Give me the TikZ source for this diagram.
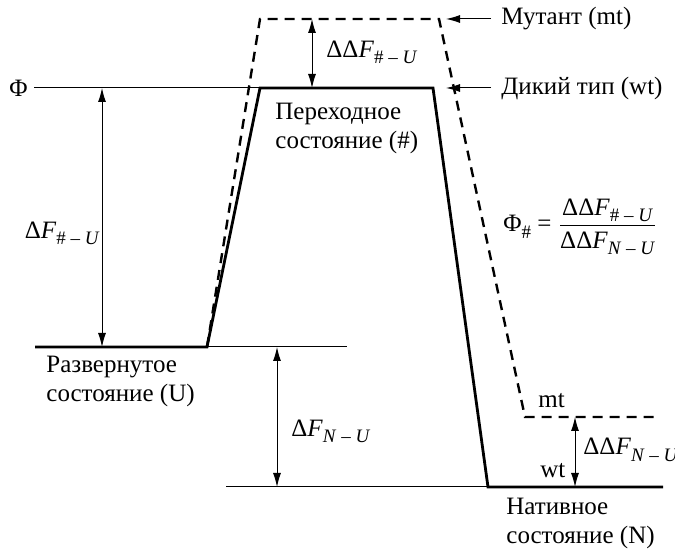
\documentclass[tikz,border=0pt]{standalone}
\usepackage{fontspec}
\setmainfont{Liberation Serif}
\usepackage{tikz}
\usetikzlibrary{positioning,arrows.meta,calc}
\newcommand{\lowsub}[1]{\raisebox{-0.55ex}{\fontsize{9.5}{9.5}\selectfont #1}}
\newcommand{\enF}[2]{#1\textit{F}\lowsub{#2}}

\begin{document}
\begin{tikzpicture}[
   x=0.5pt, y=-0.5pt,
   font=\fontsize{12.5}{14.5}\selectfont,
   node distance=6pt,
   level/.style={line width=1.4pt},
   thinline/.style={line width=0.5pt},
   mutline/.style={line width=1.2pt,dash pattern=on 5pt off 3.5pt},
   gap/.style={thinline,{Latex[length=7pt,width=4pt]}-{Latex[length=7pt,width=4pt]}},
   pointer/.style={thinline,-{Latex[length=7pt,width=4pt]}},
   lbl/.style={inner sep=0pt,align=left},
]
\useasboundingbox (0,0) rectangle (675,550);

% corners of the free-energy profile
\coordinate (u0) at (35,347);
\coordinate (u1) at (207,347);
\coordinate (u2) at (347,347);
\coordinate (t0) at (260,88);
\coordinate (t1) at (433,88);
\coordinate (n0) at (226,487);
\coordinate (n1) at (488,487);
\coordinate (n2) at (663,487);
\coordinate (m0) at (260,19);
\coordinate (m1) at (439,19);
\coordinate (m2) at (525,417);
\coordinate (m3) at (656,417);
\coordinate (phi) at (34,88);

% profiles
\draw[level] (u0) -- (u1) -- (t0) -- (t1) -- (n1) -- (n2);
\draw[mutline] (u1) -- (m0) -- (m1) -- (m2) -- (m3);
\draw[thinline] (u1) -- (u2);
\draw[thinline] (n0) -- (n1);
\draw[thinline] (phi) -- (t0);

% state labels
\node[anchor=east,inner sep=3pt] (philbl) at (phi) {Φ};
\node[lbl,anchor=west] (ts) at (275,128) {Переходное\\состояние (\#)};
\node[lbl,anchor=west] (us) at (46,381) {Развернутое\\состояние (U)};
\node[lbl,anchor=west] (ns) at (506,523) {Нативное\\состояние (N)};
\node[lbl,anchor=west] (mtl) at (538,401) {mt};
\node[lbl,anchor=west] (wtl) at (540,471) {wt};

% mutant / wild type pointers
\node[lbl,anchor=west] (mt) at (501,19) {Мутант (mt)};
\node[lbl,anchor=west] (wt) at (501,88) {Дикий тип (wt)};
\coordinate (mtend) at (446,19);
\coordinate (wtend) at (446,88);
\draw[pointer] ([xshift=-5pt]mt.west) -- (mtend);
\draw[pointer] ([xshift=-5pt]wt.west) -- (wtend);

% energy differences
\coordinate (dd0) at (312,19);
\coordinate (dd1) at (312,88);
\draw[gap] (dd0) -- (dd1);
\coordinate (ddmid) at ($(dd0)!0.48!(dd1)$);
\node[lbl,right=7pt of ddmid] (ddl) {\enF{ΔΔ}{\# – \textit{U}}};

\coordinate (fa0) at (102,88);
\coordinate (fa1) at (102,347);
\draw[gap] (fa0) -- (fa1);
\coordinate (famid) at ($(fa0)!0.56!(fa1)$);
\node[lbl,left=1pt of famid] (fal) {\enF{Δ}{\# – \textit{U}}};

\coordinate (nu0) at (277,347);
\coordinate (nu1) at (277,487);
\draw[gap] (nu0) -- (nu1);
\coordinate (numid) at ($(nu0)!0.6!(nu1)$);
\node[lbl,right=7pt of numid] (nul) {\enF{Δ}{\textit{N} – \textit{U}}};

\coordinate (dn0) at (575,417);
\coordinate (dn1) at (575,487);
\draw[gap] (dn0) -- (dn1);
\coordinate (dnmid) at ($(dn0)!0.47!(dn1)$);
\node[lbl,right=4pt of dnmid] (dnl) {\enF{ΔΔ}{\textit{N} – \textit{U}}};

% phi value
\node[lbl,anchor=west] (phiv) at (503,227)
   {Φ\lowsub{\#} = $\displaystyle\frac{\mbox{\enF{ΔΔ}{\# – \textit{U}}}}{\mbox{\enF{ΔΔ}{\textit{N} – \textit{U}}}}$};

\end{tikzpicture}
\end{document}
